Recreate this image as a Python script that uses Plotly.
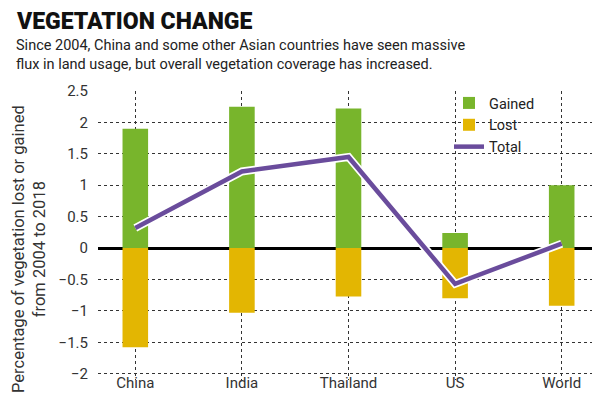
import plotly.graph_objects as go

categories = ["China", "India", "Thailand", "US", "World"]
gained = [1.9, 2.25, 2.22, 0.24, 1.0]
lost = [-1.58, -1.03, -0.77, -0.8, -0.92]
total = [0.32, 1.22, 1.45, -0.57, 0.07]
y_ticks = [2.5, 2, 1.5, 1, 0.5, 0, -0.5, -1, -1.5, -2]
y_tick_labels = ["2.5", "2", "1.5", "1", "0.5", "0", "−0.5", "−1", "−1.5", "−2"]

GREEN = "#78b52c"
YELLOW = "#e3b602"
PURPLE = "#6a4c9c"
FONT = "Roboto"

# plot area in pixels
L, R, T, B = 90, 591, 83, 372
W, H = 600, 399


def px_x(p):
    return (p - L) / (R - L)


def px_y(p):
    return (B - p) / (B - T)


fig = go.Figure()
fig.add_trace(go.Bar(x=categories, y=gained, name="Gained", marker_color=GREEN,
                     marker_line_width=0, width=0.24))
fig.add_trace(go.Bar(x=categories, y=lost, name="Lost", marker_color=YELLOW,
                     marker_line_width=0, width=0.24))
fig.add_trace(go.Scatter(x=categories, y=total, mode="lines", showlegend=False,
                         line=dict(color="white", width=8), hoverinfo="skip"))
fig.add_trace(go.Scatter(x=categories, y=total, mode="lines", name="Total",
                         line=dict(color=PURPLE, width=4.5)))

fig.update_layout(
    width=W, height=H,
    margin=dict(l=L, r=W - R, t=T, b=H - B),
    barmode="relative",
    plot_bgcolor="white", paper_bgcolor="white",
    font=dict(family=FONT, size=15, color="#333"),
    legend=dict(x=px_x(441), y=px_y(79), xanchor="left", yanchor="top",
                font=dict(size=14.5, color="#222"), bgcolor="rgba(0,0,0,0)",
                tracegroupgap=0, itemwidth=30),
    xaxis=dict(range=[-0.35, 4.35], showgrid=True, griddash="dot",
               gridcolor="#333", gridwidth=1, ticks="", showline=False,
               ticklabelstandoff=-8,
               tickfont=dict(size=15, color="#333")),
    yaxis=dict(range=[-2.1, 2.5], tickvals=y_ticks, ticktext=y_tick_labels,
               showgrid=True, griddash="dot", gridcolor="#333", gridwidth=1,
               zeroline=True, zerolinecolor="black", zerolinewidth=3,
               ticks="", showline=False, ticklabelstandoff=9,
               tickfont=dict(size=15, color="#333")),
    showlegend=True,
)

fig.add_annotation(xref="paper", yref="paper", x=px_x(6), y=px_y(-2),
                   xanchor="left", yanchor="top", showarrow=False,
                   text="VEGETATION CHANGE",
                   font=dict(family="Roboto", weight=900, size=23, color="#111"))
fig.add_annotation(xref="paper", yref="paper", x=px_x(6), y=px_y(27),
                   xanchor="left", yanchor="top", showarrow=False, align="left",
                   text="Since 2004, China and some other Asian countries have seen massive<br>"
                        "flux in land usage, but overall vegetation coverage has increased.",
                   font=dict(family=FONT, size=14.5, color="#222"))
fig.add_annotation(xref="paper", yref="paper", x=px_x(21), y=px_y(241),
                   xanchor="center", yanchor="middle", showarrow=False,
                   textangle=-90,
                   text="Percentage of vegetation lost or gained<br>from 2004 to 2018",
                   font=dict(family=FONT, size=16.5, color="#333"))

fig.write_html("out.html")
